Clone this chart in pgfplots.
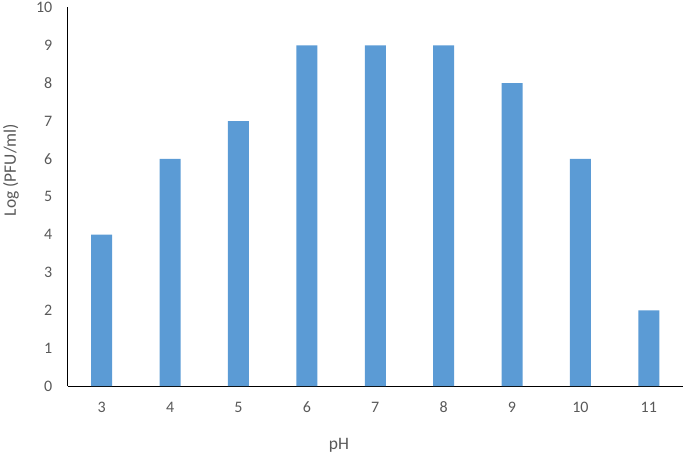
\documentclass[border=0pt]{standalone}
\usepackage{pgfplots}
\pgfplotsset{compat=1.18}
\usepackage{fontspec}
\setmainfont{Carlito}
\definecolor{barblue}{HTML}{5B9BD5}
\definecolor{txtgrey}{HTML}{595959}
\begin{document}
\begin{tikzpicture}
\useasboundingbox (0,0) rectangle (685pt,455pt);
\begin{axis}[
    at={(67.5pt,69pt)}, anchor=south west,
    scale only axis,
    width=615.5pt, height=378.5pt,
    ybar, bar width=21pt,
    xmin=2.5, xmax=11.5,
    ymin=0, ymax=10,
    xtick={3,...,11}, ytick={0,...,10},
    axis x line*=bottom, axis y line*=left,
    axis line style={black, line width=1pt},
    major tick length=0pt,
    /pgf/number format/assume math mode=true,
    tick label style={font=\fontsize{16}{19}\selectfont, text=txtgrey, inner sep=0pt},
    xticklabel style={anchor=center, yshift=-21pt},
    yticklabel style={anchor=east, xshift=-15pt},
    clip=false
    ]
\addplot[fill=barblue, draw=none] coordinates {(3,4) (4,6) (5,7) (6,9) (7,9) (8,9) (9,8) (10,6) (11,2)};
\end{axis}
\node[rotate=90, text=txtgrey, font=\fontsize{17.5}{21}\selectfont] at (11pt,285pt) {Log (PFU/ml)};
\node[text=txtgrey, font=\fontsize{17.5}{21}\selectfont] at (339pt,10pt) {pH};
\end{tikzpicture}
\end{document}
